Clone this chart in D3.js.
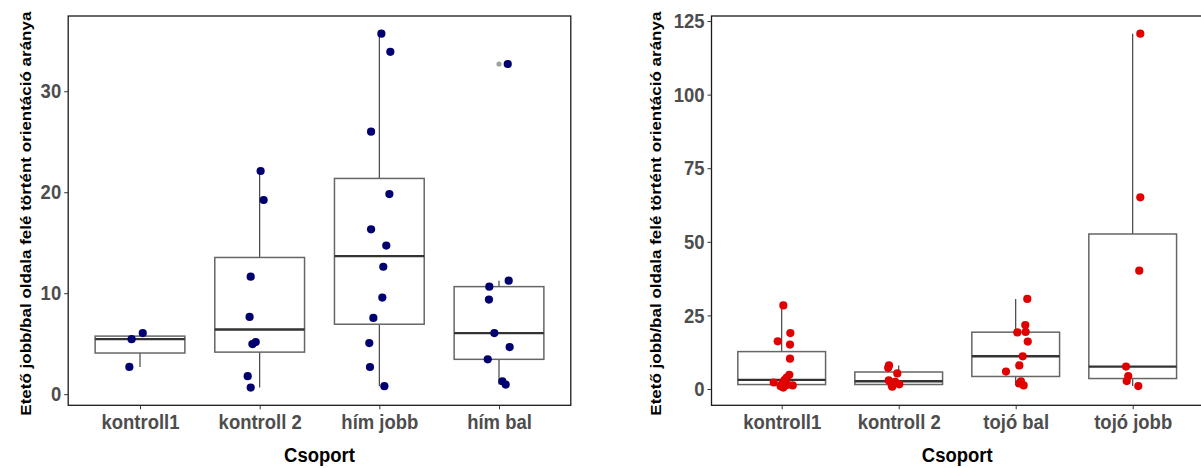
<!DOCTYPE html>
<html><head><meta charset="utf-8">
<script src="https://cdn.jsdelivr.net/npm/d3@7/dist/d3.min.js"></script>
<style>
body{margin:0;background:#fff;}
text{font-family:"Liberation Sans",Arial,sans-serif;}
</style></head>
<body><svg id="c" width="1201" height="468"></svg>
<script>
// ---------- data ----------
const catsLeft = ["kontroll1", "kontroll 2", "hím jobb", "hím bal"];
const catsRight = ["kontroll1", "kontroll 2", "tojó bal", "tojó jobb"];

const leftKontroll1 = [5.45, 6.05, 2.7];
const leftKontroll2 = [22.1, 19.23, 11.64, 7.65, 4.96, 5.16, 1.78, 0.65];
const leftHimJobb = [35.7, 33.9, 26.0, 19.82, 16.33, 14.72, 12.62, 9.57, 7.55, 5.06, 2.69, 0.79];
const leftHimBal = [32.7, 11.24, 10.65, 9.37, 6.05, 4.66, 3.45, 1.28, 0.95];

const rightKontroll1 = [28.4, 19.0, 16.2, 15.1, 10.3, 4.8, 3.9, 3.1, 2.5, 2.2, 1.6, 1.4, 1.2, 0.9, 0.47];
const rightKontroll2 = [8.0, 7.2, 5.3, 2.9, 2.4, 1.6, 1.3, 0.8];
const rightTojoBal = [30.6, 21.7, 19.4, 19.2, 16.1, 11.1, 8.0, 5.9, 2.6, 1.9, 1.2];
const rightTojoJobb = [120.7, 65.1, 40.2, 7.6, 4.4, 2.7, 1.0];

// horizontal jitter of each point (fraction of one category step)
const jitLeftKontroll1 = [-0.07, 0.023, -0.089];
const jitLeftKontroll2 = [0.008, 0.033, -0.075, -0.084, -0.061, -0.033, -0.1, -0.075];
const jitLeftHimJobb = [0.017, 0.092, -0.069, 0.084, -0.069, 0.058, 0.033, 0.025, -0.05, -0.084, -0.078, 0.042];
const jitLeftHimBal = [0.073, 0.081, -0.081, -0.084, -0.039, 0.089, -0.094, 0.028, 0.056];
const jitRightKontroll1 = [0.014, 0.074, -0.034, 0.071, 0.071, 0.065, 0.043, 0.026, 0.017, -0.068, 0, 0.051, 0.094, -0.009, 0.014];
const jitRightKontroll2 = [-0.083, -0.09, -0.012, -0.085, -0.03, 0.005, -0.06, -0.055];
const jitRightTojoBal = [0.099, 0.082, 0.085, 0.014, 0.103, 0.06, 0.031, -0.083, 0.045, 0.031, 0.068];
const jitRightTojoJobb = [0.065, 0.065, 0.056, -0.057, -0.038, -0.051, 0.048];

const ticksLeft = [0, 10, 20, 30];
const ticksRight = [0, 25, 50, 75, 100, 125];

const xTitle = "Csoport";
const yTitle = "Etető jobb/bal oldala felé történt orientáció aránya";

// ---------- drawing ----------
const svg = d3.select("#c");
const SQ = 0.88; // horizontal squeeze of the lettering

function stats(v) {
  const s = v.slice().sort(d3.ascending);
  const q1 = d3.quantile(s, 0.25), med = d3.quantile(s, 0.5), q3 = d3.quantile(s, 0.75);
  const iqr = q3 - q1;
  const lo = d3.min(s.filter(d => d >= q1 - 1.5 * iqr));
  const hi = d3.max(s.filter(d => d <= q3 + 1.5 * iqr));
  const out = s.filter(d => d < lo || d > hi);
  return {q1, med, q3, lo, hi, out};
}

function panel(opt) {
  const g = svg.append("g");
  const all = opt.groups.flat();
  const mn = d3.min(all), mx = d3.max(all), r = mx - mn;
  const x = d3.scalePoint().domain(opt.cats).range([opt.x0, opt.x1]).padding(0.6);
  const y = d3.scaleLinear().domain([mn - 0.05 * r, mx + 0.05 * r]).range([opt.y1, opt.y0]);
  const step = x.step();
  const bw = step * 0.75;

  // boxes
  opt.groups.forEach((vals, i) => {
    const st = stats(vals);
    const cx = x(opt.cats[i]);
    g.append("line").attr("x1", cx).attr("x2", cx).attr("y1", y(st.hi)).attr("y2", y(st.q3))
      .attr("stroke", "#333").attr("stroke-width", 1.1);
    g.append("line").attr("x1", cx).attr("x2", cx).attr("y1", y(st.lo)).attr("y2", y(st.q1))
      .attr("stroke", "#333").attr("stroke-width", 1.1);
    g.append("rect").attr("x", cx - bw / 2).attr("width", bw)
      .attr("y", y(st.q3)).attr("height", y(st.q1) - y(st.q3))
      .attr("fill", "#fff").attr("stroke", "#666").attr("stroke-width", 1.5);
    g.append("line").attr("x1", cx - bw / 2).attr("x2", cx + bw / 2)
      .attr("y1", y(st.med)).attr("y2", y(st.med))
      .attr("stroke", "#333").attr("stroke-width", 2.4);
    st.out.forEach(o => {
      g.append("circle").attr("cx", cx).attr("cy", y(o)).attr("r", 2.6).attr("fill", "#a0a0a0");
    });
  });
  // jittered points
  opt.groups.forEach((vals, i) => {
    const cx = x(opt.cats[i]);
    g.selectAll(null).data(vals).enter().append("circle")
      .attr("cx", (d, k) => cx + opt.jit[i][k] * step)
      .attr("cy", d => y(d)).attr("r", 4.1).attr("fill", opt.color);
  });

  // border
  g.append("rect").attr("x", opt.x0).attr("y", opt.y0)
    .attr("width", opt.x1 - opt.x0).attr("height", opt.y1 - opt.y0)
    .attr("fill", "none").attr("stroke", "#1a1a1a").attr("stroke-width", 1.3);

  // axes
  const ax = g.append("g").attr("transform", `translate(0,${opt.y1})`)
    .call(d3.axisBottom(x).tickSize(4).tickPadding(5));
  ax.select(".domain").remove();
  ax.selectAll("line").attr("stroke", "#333");
  ax.selectAll("text").attr("fill", "#4d4d4d").style("font-size", "21px").style("font-weight", "bold")
    .attr("transform", `scale(${SQ},1)`);

  const ay = g.append("g").attr("transform", `translate(${opt.x0},0)`)
    .call(d3.axisLeft(y).tickValues(opt.ticks).tickSize(4).tickPadding(4));
  ay.select(".domain").remove();
  ay.selectAll("line").attr("stroke", "#333");
  ay.selectAll("text").attr("fill", "#4d4d4d").style("font-size", "21px").style("font-weight", "bold")
    .attr("transform", `scale(${SQ},1)`);

  g.append("text").attr("transform", `translate(${(opt.x0 + opt.x1) / 2},462) scale(${SQ},1)`)
    .attr("text-anchor", "middle")
    .style("font-size", "21px").style("font-weight", "bold").attr("fill", "#000").text(xTitle);
  g.append("text").attr("transform", `translate(${opt.ytx},${(opt.y0 + opt.y1) / 2 + 3}) scale(${SQ},1) rotate(-90)`)
    .attr("text-anchor", "middle").style("font-size", "17px").style("font-weight", "bold")
    .attr("fill", "#000").text(yTitle);
}

panel({
  cats: catsLeft,
  groups: [leftKontroll1, leftKontroll2, leftHimJobb, leftHimBal],
  jit: [jitLeftKontroll1, jitLeftKontroll2, jitLeftHimJobb, jitLeftHimBal],
  ticks: ticksLeft, color: "#000070",
  x0: 68.2, x1: 570.8, y0: 16, y1: 405.3, ytx: 31
});
panel({
  cats: catsRight,
  groups: [rightKontroll1, rightKontroll2, rightTojoBal, rightTojoJobb],
  jit: [jitRightKontroll1, jitRightKontroll2, jitRightTojoBal, jitRightTojoJobb],
  ticks: ticksRight, color: "#e00000",
  x0: 711.5, x1: 1202.9, y0: 16, y1: 405.3, ytx: 661
});
</script></body></html>
